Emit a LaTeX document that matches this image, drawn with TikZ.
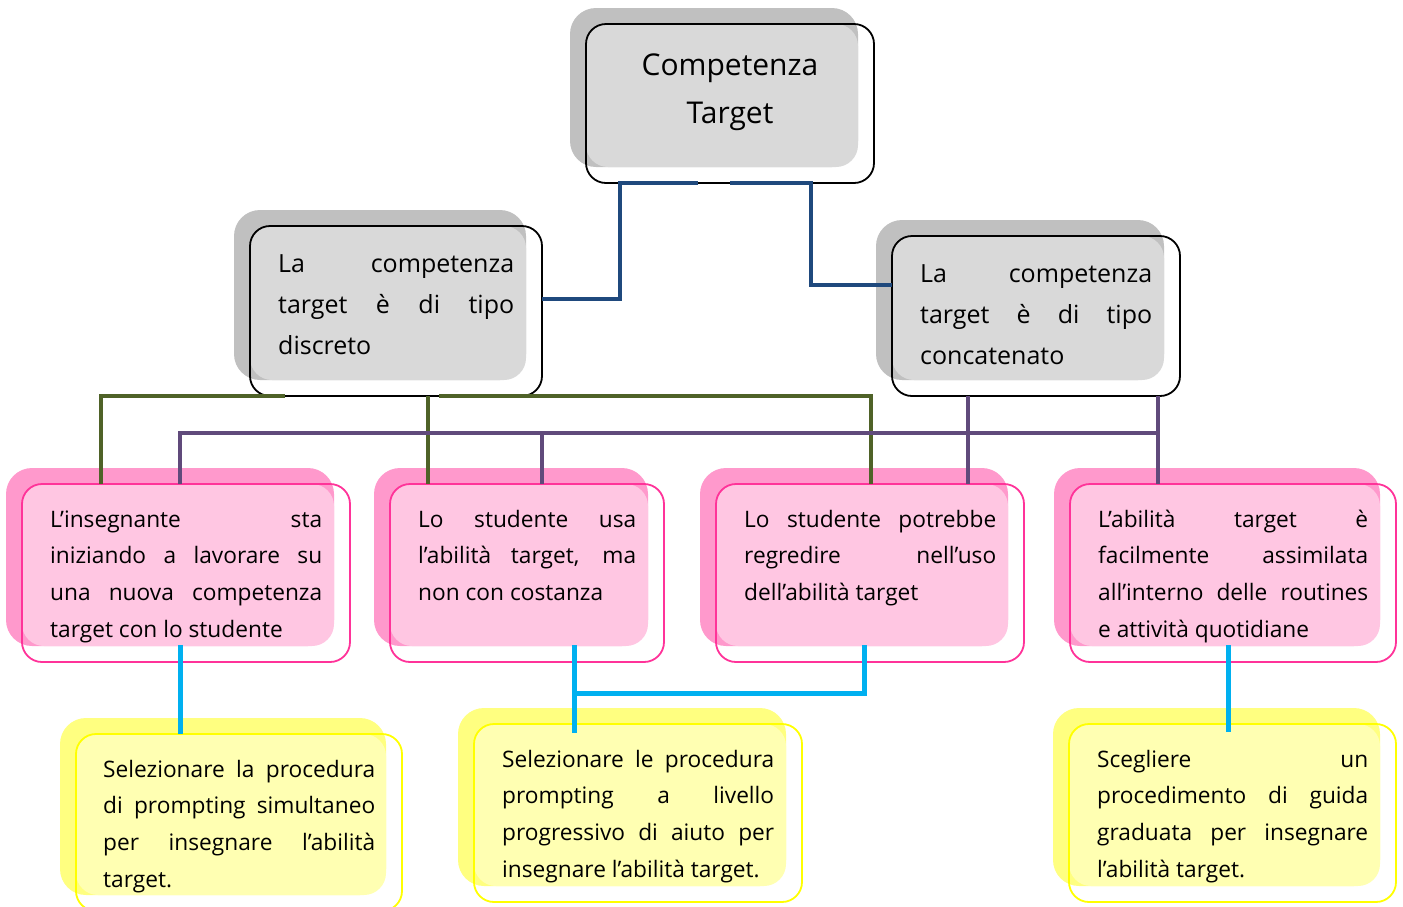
\documentclass[tikz,border=0pt]{standalone}
\usepackage{fontspec}
\setmainfont{Open Sans}
\usepackage{xcolor}
\usepackage{tikz}
\usetikzlibrary{positioning}

\definecolor{grayback}{HTML}{C0C0C0}
\definecolor{grayfill}{HTML}{D9D9D9}
\definecolor{grayline}{HTML}{000000}
\definecolor{pinkback}{HTML}{FF99CC}
\definecolor{pinkfill}{HTML}{FFC6E2}
\definecolor{pinkline}{HTML}{FF3399}
\definecolor{yellowback}{HTML}{FFFF80}
\definecolor{yellowfill}{HTML}{FFFFB2}
\definecolor{yellowline}{HTML}{FFFF00}
\definecolor{linkblue}{HTML}{1F497D}
\definecolor{linkgreen}{HTML}{4F6228}
\definecolor{linkpurple}{HTML}{604A7B}
\definecolor{linkcyan}{HTML}{00B0F0}

% card: shadow, light fill, frame node
\newcommand{\cardbox}[6]{%
  \fill[#6back, rounded corners=26pt] (#2-16,#3-16) rectangle (#4-16,#5-16);
  \fill[#6fill, rounded corners=22pt] (#2,#3) rectangle (#4-16,#5-16);
  \node[frame, draw=#6line, minimum width={(#4-#2)*1pt},
    minimum height={(#5-#3)*1pt}] (#1) at (#2,#3) {};
}
% justified line
\newcommand{\jl}[1]{\makebox[\hsize][s]{\spaceskip=0pt\xspaceskip=0pt\relax #1}\\}

\begin{document}
\begin{tikzpicture}[x=1pt, y=-1pt,
frame/.style = {anchor=north west, inner sep=0pt, outer sep=0pt,
  rounded corners=20pt, line width=1.8pt},
txt/.style = {anchor=base west, align=justify, inner sep=0pt,
  font=\fontsize{22.7}{36.7}\selectfont},
graytxt/.style = {txt, font=\fontsize{25}{41}\selectfont},
blueln/.style = {draw=linkblue, line width=4pt},
greenln/.style = {draw=linkgreen, line width=4pt},
purpleln/.style = {draw=linkpurple, line width=4pt},
cyanln/.style = {draw=linkcyan, line width=5pt} ]
\useasboundingbox (0,0) rectangle (1403,906);

% boxes
\cardbox{target}{586}{24}{874}{183}{gray}
\cardbox{discreto}{250}{226}{542}{396}{gray}
\cardbox{concat}{892}{236}{1180}{396}{gray}
\cardbox{inizio}{22}{484}{350}{662}{pink}
\cardbox{costanza}{390}{484}{664}{662}{pink}
\cardbox{regredire}{716}{484}{1024}{662}{pink}
\cardbox{routine}{1070}{484}{1396}{662}{pink}
\cardbox{simultaneo}{76}{734}{402}{911}{yellow}
\cardbox{progressivo}{474}{724}{802}{902}{yellow}
\cardbox{graduata}{1069}{724}{1396}{902}{yellow}

% texts
\node[anchor=base, align=center, inner sep=0pt,
  font=\fontsize{30}{48}\selectfont] (target-txt) at (730,123)
  {Competenza\\Target};
\node[graytxt, text width=236pt] (discreto-txt) at (278,272)
  {\jl{La competenza}\jl{target è di tipo}discreto};
\node[graytxt, text width=232pt] (concat-txt) at (920,282)
  {\jl{La competenza}\jl{target è di tipo}concatenato};
\node[txt, text width=272pt] (inizio-txt) at (50,527)
  {\jl{L’insegnante sta}\jl{iniziando a lavorare su}\jl{una nuova competenza}target con lo studente};
\node[txt, text width=218pt] (costanza-txt) at (418,527)
  {\jl{Lo studente usa}\jl{l’abilità target, ma}non con costanza};
\node[txt, text width=252pt] (regredire-txt) at (744,527)
  {\jl{Lo studente potrebbe}\jl{regredire nell’uso}dell’abilità target};
\node[txt, text width=270pt] (routine-txt) at (1098,527)
  {\jl{L’abilità target è}\jl{facilmente assimilata}\jl{all’interno delle routines}e attività quotidiane};
\node[txt, text width=272pt] (simultaneo-txt) at (103,777)
  {\jl{Selezionare la procedura}\jl{di prompting simultaneo}\jl{per insegnare l’abilità}target.};
\node[txt, text width=272pt] (progressivo-txt) at (502,767)
  {\jl{Selezionare le procedura}\jl{prompting a livello}\jl{progressivo di aiuto per}insegnare l’abilità target.};
\node[txt, text width=271pt] (graduata-txt) at (1097,767)
  {\jl{Scegliere un}\jl{procedimento di guida}\jl{graduata per insegnare}l’abilità target.};

% connectors
\draw[blueln] ([xshift=112pt]target.south west) -- ([xshift=34pt]target.south west)
  |- ([yshift=12pt]discreto.east);
\draw[blueln] ([xshift=144pt]target.south west) -- ([xshift=225pt]target.south west)
  |- ([yshift=31pt]concat.west);

\draw[greenln] ([xshift=35pt]discreto.south west) -| ([xshift=79pt]inizio.north west);
\draw[greenln] ([xshift=178pt]discreto.south west) -- ([xshift=38pt]costanza.north west);
\draw[greenln] ([xshift=189pt]discreto.south west) -| ([xshift=155pt]regredire.north west);

\draw[purpleln] ([xshift=76pt]concat.south west) -- ([xshift=252pt]regredire.north west);
\draw[purpleln] ([xshift=266pt]concat.south west) -- ([xshift=88pt]routine.north west);
\draw[purpleln] ([xshift=158pt]inizio.north west) |- ([xshift=88pt,yshift=51pt]routine.north west);
\draw[purpleln] ([xshift=152pt,yshift=51pt]costanza.north west) -- ([xshift=152pt]costanza.north west);

\draw[cyanln] ([xshift=158pt,yshift=17pt]inizio.south west) -- ([xshift=104pt]simultaneo.north west);
\draw[cyanln] ([xshift=184pt,yshift=17pt]costanza.south west) -- ([xshift=100pt,yshift=-9pt]progressivo.north west);
\draw[cyanln] ([xshift=148pt,yshift=17pt]regredire.south west) |- ([xshift=184pt,yshift=-31pt]costanza.south west);
\draw[cyanln] ([xshift=158pt,yshift=17pt]routine.south west) -- ([xshift=159pt,yshift=-8pt]graduata.north west);
\end{tikzpicture}
\end{document}
